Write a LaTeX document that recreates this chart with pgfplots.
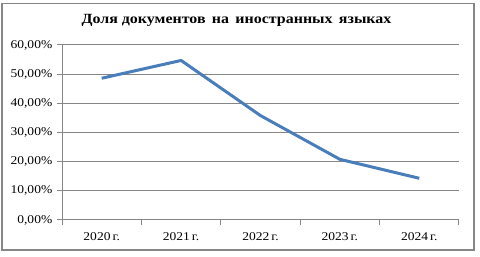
\documentclass[border=0pt]{standalone}
\usepackage{fontspec}
\setmainfont[FakeStretch=1.14]{Liberation Serif}
\usepackage{pgfplots}
\pgfplotsset{compat=1.18}
\definecolor{lineblue}{RGB}{74,126,187}
\definecolor{gridgray}{RGB}{134,134,134}
\begin{document}
\begin{tikzpicture}[x=0.75pt,y=0.75pt]
\path[use as bounding box] (0,0) rectangle (480,257);
\draw[gridgray, line width=0.9pt] (2,7) rectangle (474,253.5);
\node[font=\bfseries\fontsize{10.5}{12}\selectfont] at (236.5,237) {Доля документов\, на\, иностранных\, языках};
\begin{axis}[at={(46.5pt,27.75pt)}, anchor=south west,
  width=297.75pt, height=131.25pt, scale only axis,
  xmin=-0.5, xmax=4.5, ymin=0, ymax=60,
  xtick={-0.5,0.5,...,4.5},
  x tick label as interval,
  xticklabels={2020\,г.,2021\,г.,2022\,г.,2023\,г.,2024\,г.},
  ytick={0,10,...,60},
  yticklabels={{0,00\%},{10,00\%},{20,00\%},{30,00\%},{40,00\%},{50,00\%},{60,00\%}},
  axis lines*=left,
  axis line style={gridgray, line width=0.75pt},
  tick style={gridgray, line width=0.75pt},
  tick align=outside,
  major tick length=3.75pt,
  ymajorgrids, grid style={gridgray, line width=0.75pt},
  tick label style={font=\fontsize{8.9}{10}\selectfont, black},
  yticklabel style={xshift=0pt},
  xticklabel style={yshift=-2.5pt},
  clip=false,
]
\addplot[lineblue, line width=2.25pt, line join=round] coordinates {
 (0,48.6) (1,54.7) (2,35.8) (3,20.8) (4,14.3)
};
\end{axis}
\end{tikzpicture}
\end{document}
